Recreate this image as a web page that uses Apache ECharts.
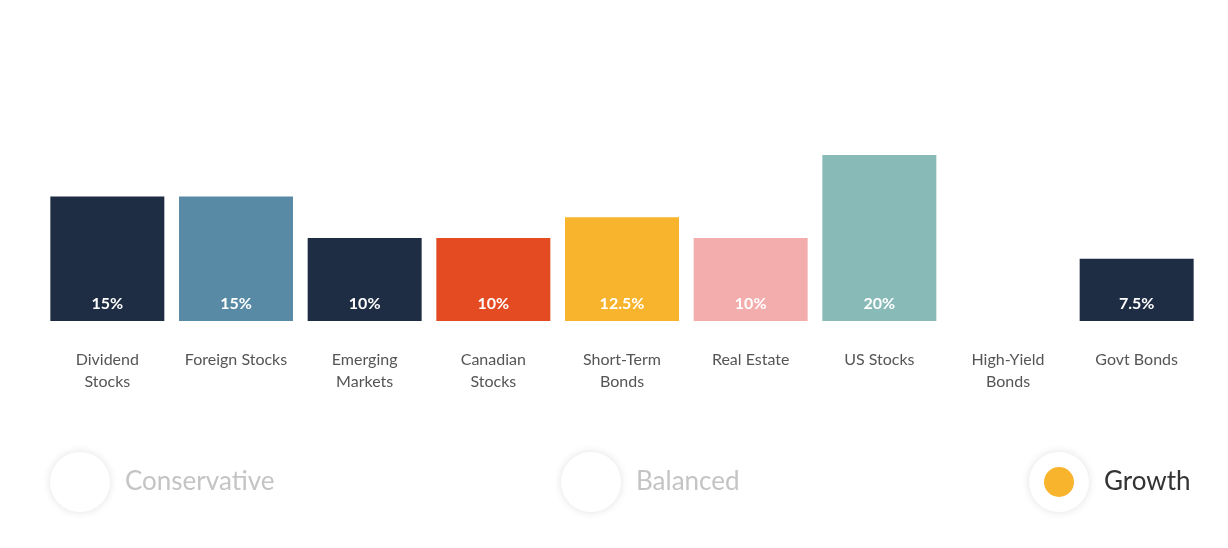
<!DOCTYPE html>
<html><head><meta charset="utf-8">
<script src="https://cdn.jsdelivr.net/npm/echarts@6/dist/echarts.min.js"></script>
<style>html,body{margin:0;background:#fff}#c{width:1228px;height:548px}</style>
</head><body><div id="c"></div>
<script>
// asset classes and growth allocation
var categories = ['Dividend\nStocks', 'Foreign Stocks', 'Emerging\nMarkets', 'Canadian\nStocks', 'Short-Term\nBonds', 'Real Estate', 'US Stocks', 'High-Yield\nBonds', 'Govt Bonds'];
var values = [15, 15, 10, 10, 12.5, 10, 20, 0, 7.5];
var colors = ['#1f2d44', '#588aa6', '#1f2d44', '#e54b22', '#f9b42d', '#f3adad', '#88bab8', '#1f2d44', '#1f2d44'];
var profiles = ['Conservative', 'Balanced', 'Growth'];

var chart = echarts.init(document.getElementById('c'));

function radio(cx, label, selected) {
    var items = [
        { type: 'circle', shape: { cx: cx, cy: 482, r: 30 },
          style: { fill: '#fff', shadowBlur: 8, shadowColor: 'rgba(0,0,0,0.12)' } },
        { type: 'text', x: cx + 45, y: 482,
          style: { text: label, fill: selected ? '#333' : '#c4c4c4', font: '26px Lato', verticalAlign: 'middle' } }
    ];
    if (selected) items.push({ type: 'circle', shape: { cx: cx, cy: 482, r: 15 }, style: { fill: '#f9b42d' } });
    return items;
}

chart.setOption({
    animation: false,
    grid: { left: 43, right: 27, top: 155, bottom: 227 },
    xAxis: {
        type: 'category', data: categories,
        axisLine: { show: false }, axisTick: { show: false },
        axisLabel: { color: '#555', fontSize: 16, fontFamily: 'Lato', margin: 28, lineHeight: 22, interval: 0 }
    },
    yAxis: { type: 'value', min: 0, max: 20, show: false, splitLine: { show: false } },
    series: [{
        type: 'bar', barWidth: 114,
        data: values.map(function (v, i) { return { value: v, itemStyle: { color: colors[i] } }; }),
        label: {
            show: true, position: 'insideBottom', distance: 9,
            color: '#fff', fontWeight: 'bold', fontSize: 16, fontFamily: 'Lato',
            formatter: function (p) { return p.value ? p.value + '%' : ''; }
        }
    }],
    graphic: [].concat(radio(80, profiles[0], false), radio(591, profiles[1], false), radio(1059, profiles[2], true))
});
</script></body></html>
